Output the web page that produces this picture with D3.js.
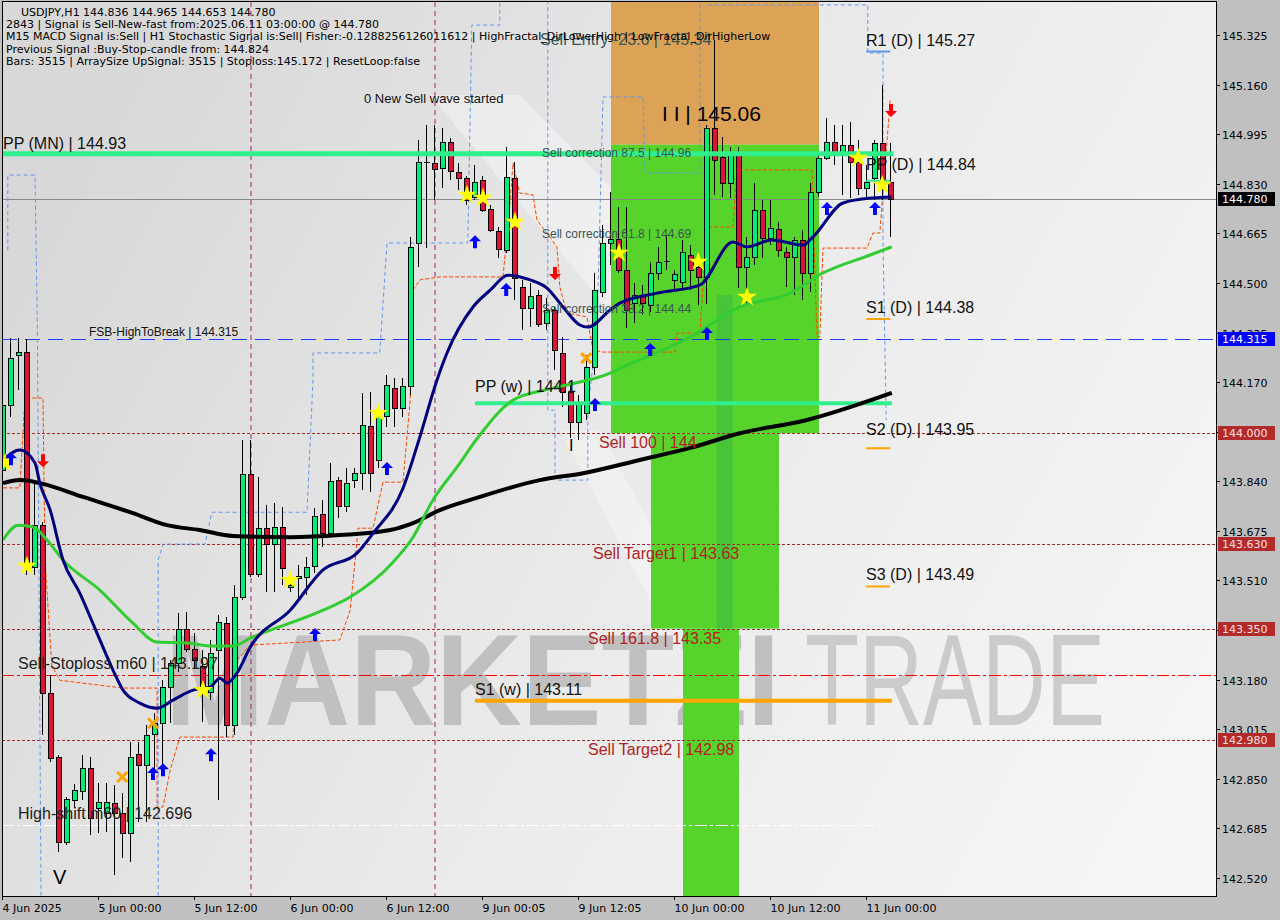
<!DOCTYPE html>
<html><head><meta charset="utf-8">
<script src="https://cdn.jsdelivr.net/npm/d3@7"></script>
<style>html,body{margin:0;padding:0;background:#c0c0c0;overflow:hidden}</style>
</head><body><div id="chart"></div>
<script>
// ---------------- DATA ----------------
const timeTickIdx = [0,12,24,36,48,60,72,84,96,108];
const timeLabels = ["4 Jun 2025","5 Jun 00:00","5 Jun 12:00","6 Jun 00:00","6 Jun 12:00","9 Jun 00:05","9 Jun 12:05","10 Jun 00:00","10 Jun 12:00","11 Jun 00:00"];
const priceTicks = [145.325,145.160,144.995,144.830,144.665,144.500,144.335,144.170,144.005,143.840,143.675,143.510,143.345,143.180,143.015,142.850,142.685,142.520];

const open = [143.877,144.094,144.260,144.270,143.555,143.694,143.135,142.922,142.640,142.779,142.809,142.886,142.753,142.736,142.769,142.736,142.670,142.932,142.896,142.999,143.035,143.155,143.235,143.348,143.282,143.225,143.139,143.278,143.368,143.029,143.455,143.864,143.531,143.684,143.631,143.688,143.488,143.518,143.521,143.558,143.731,143.668,143.844,143.758,143.844,143.867,144.024,143.911,144.057,144.150,144.084,144.157,144.633,144.902,144.899,144.882,144.969,144.869,144.849,144.786,144.842,144.746,144.673,144.610,144.849,144.486,144.417,144.460,144.366,144.410,144.267,144.137,144.037,144.067,144.220,144.470,144.633,144.646,144.543,144.433,144.460,144.427,144.533,144.570,144.510,144.503,144.593,144.553,144.520,145.016,144.919,144.832,144.936,144.553,144.586,144.743,144.649,144.679,144.603,144.586,144.643,144.533,144.803,144.916,144.969,144.936,144.959,144.902,144.816,144.849,144.966,144.836];
const high = [144.127,144.316,144.316,144.313,143.834,143.704,143.195,142.929,142.789,142.833,142.929,142.922,142.836,142.836,142.829,142.803,142.972,142.972,143.029,143.069,143.179,143.245,143.402,143.405,143.335,143.278,143.312,143.395,143.388,143.495,143.977,143.977,143.854,143.761,143.768,143.754,143.521,143.561,143.588,143.751,143.778,143.901,143.854,143.884,143.884,144.134,144.137,144.094,144.194,144.184,144.184,144.653,144.976,145.026,145.026,145.016,144.982,144.899,144.856,144.892,144.856,144.759,144.686,144.952,144.902,144.510,144.500,144.476,144.450,144.420,144.320,144.160,144.127,144.260,144.533,144.693,144.803,144.753,144.753,144.500,144.493,144.570,144.620,144.659,144.543,144.643,144.626,144.600,145.026,145.308,144.986,144.952,144.952,144.653,144.832,144.776,144.776,144.703,144.620,144.653,144.676,144.832,144.926,145.049,145.026,145.026,145.036,144.976,144.892,144.976,145.159,144.965];
const low = [143.844,144.054,144.144,143.528,143.528,142.996,142.906,142.606,142.630,142.753,142.779,142.663,142.670,142.673,142.530,142.587,142.573,142.706,142.706,142.869,142.896,143.035,143.205,143.272,143.218,143.039,143.112,142.779,142.989,142.996,143.445,143.521,143.521,143.471,143.471,143.495,143.471,143.451,143.461,143.535,143.621,143.654,143.718,143.738,143.818,143.811,143.804,143.884,144.020,144.020,144.054,144.127,144.553,144.616,144.776,144.816,144.842,144.809,144.759,144.776,144.736,144.669,144.583,144.600,144.443,144.343,144.353,144.353,144.343,144.210,144.087,143.984,143.977,144.044,144.194,144.453,144.560,144.533,144.350,144.366,144.393,144.403,144.510,144.543,144.476,144.476,144.476,144.427,144.430,144.793,144.786,144.783,144.483,144.433,144.560,144.583,144.626,144.586,144.486,144.460,144.443,144.470,144.786,144.909,144.892,144.793,144.783,144.793,144.783,144.776,144.776,144.653];
const close = [144.094,144.250,144.270,143.561,143.694,143.135,142.919,142.640,142.783,142.813,142.886,142.719,142.773,142.773,142.736,142.670,142.922,142.896,142.996,143.035,143.155,143.235,143.348,143.282,143.245,143.139,143.268,143.372,143.029,143.455,143.864,143.531,143.684,143.631,143.688,143.551,143.495,143.525,143.555,143.724,143.668,143.841,143.758,143.834,143.867,144.027,143.867,144.067,144.160,144.084,144.157,144.620,144.902,144.899,144.879,144.969,144.872,144.849,144.776,144.836,144.743,144.676,144.613,144.852,144.516,144.417,144.456,144.363,144.410,144.277,144.137,144.037,144.100,144.220,144.476,144.633,144.646,144.543,144.410,144.460,144.433,144.533,144.570,144.573,144.530,144.603,144.543,144.520,145.016,144.909,144.832,144.936,144.553,144.586,144.743,144.649,144.683,144.610,144.586,144.643,144.533,144.803,144.916,144.969,144.936,144.959,144.902,144.816,144.836,144.966,144.842,144.780];

// moving averages: [bar index, price]
const maFast = [[0,143.911],[2.1,143.944],[4,143.901],[4.6,143.834],[5.9,143.744],[7.5,143.578],[9.6,143.468],[11.75,143.335],[13.75,143.212],[15,143.145],[17.1,143.102],[19.25,143.085],[21.25,143.112],[23.75,143.145],[25.9,143.155],[27.1,143.185],[28,143.169],[29.25,143.202],[30.9,143.288],[35.9,143.411],[40,143.545],[44.25,143.601],[46.25,143.667],[50,143.817],[52.1,143.987],[54.25,144.177],[55.5,144.267],[58.75,144.420],[60.9,144.476],[63.1,144.526],[65.9,144.510],[68,144.483],[70,144.420],[72.1,144.360],[73.1,144.353],[75.9,144.410],[77.1,144.433],[81.75,144.466],[87.1,144.493],[91.25,144.636],[93,144.620],[96.1,144.643],[100,144.626],[101.25,144.653],[105,144.766],[108.75,144.783],[111.1,144.786]];
const maMid = [[0,143.645],[1.9,143.694],[3.75,143.688],[5.5,143.645],[7.5,143.578],[12.1,143.478],[16.25,143.368],[19.25,143.305],[23,143.302],[26.25,143.292],[28.75,143.292],[30.9,143.318],[40,143.411],[43.4,143.455],[48.75,143.571],[51.25,143.654],[53.75,143.778],[56.75,143.887],[59.6,143.994],[63.75,144.110],[68.75,144.150],[75.9,144.200],[77.5,144.220],[85.9,144.320],[92.1,144.420],[98.4,144.466],[102.5,144.533],[108.4,144.593],[111.1,144.620]];
const maSlow = [[0,143.834],[2.1,143.844],[4.6,143.834],[10,143.788],[16.25,143.734],[20.5,143.694],[24.6,143.678],[28.75,143.658],[35.9,143.654],[42.1,143.661],[48.4,143.678],[51.25,143.701],[54.6,143.744],[59.6,143.788],[67.1,143.844],[72.5,143.867],[79.6,143.911],[85.9,143.951],[92.1,144.000],[100.5,144.044],[111.1,144.134]];
const trailStop = [[0,143.818],[2.1,143.818],[2.75,144.117],[5,144.117],[5.25,143.578],[6.1,143.228],[7.1,143.178],[15,143.152],[19.25,143.152],[19.25,142.756],[20,142.756],[20.9,142.879],[22.1,142.989],[28.75,142.989],[29.25,143.245],[30.9,143.295],[42.1,143.312],[43.4,143.411],[44.4,143.684],[46.25,143.684],[47.5,143.837],[50,143.837],[50.9,144.110],[51.25,144.476],[52.1,144.510],[54.6,144.520],[62.5,144.520],[63.4,144.776],[63.75,144.899],[64.6,144.799],[66.25,144.793],[66.75,144.709],[69.25,144.620],[69.6,144.486],[70.5,144.400],[73,144.387],[73.75,144.277],[75,144.270],[84,144.270],[84.25,144.333],[87.1,144.333],[88,144.686],[91.25,144.686],[91.75,144.876],[101.1,144.876],[101.75,144.320],[102.1,144.320],[102.5,144.616],[108,144.616],[108.75,144.666],[109.6,144.666],[110.9,145.109]];
const envLeft = [[0.6,144.609],[0.6,144.859],[4,144.859],[4.3,144.343],[4.75,142.46]];
const envA = [[19.4,142.46],[19.4,143.578],[20,143.631],[25.25,143.631],[26.1,143.737],[38,143.737],[38.75,144.177],[38.75,144.267],[47.1,144.267],[48,144.633],[58.1,144.633],[58.6,145.358],[62.1,145.358],[62.1,145.44]];
const envB = [[68.1,145.44],[68.1,144.077],[69,144.077],[69,143.844],[73.1,143.844],[73.1,144.077],[74.25,144.343],[75,145.119],[80,145.119],[80.25,144.866],[87.1,144.866],[87.1,145.44]];
const envC = [[88.1,145.425],[108.1,145.425],[108.1,145.265],[110,145.265],[110,144.643],[110.4,144.044]];

const stars = [[0.25,143.901],[3,143.558],[25,143.145],[35.9,143.511],[46.9,144.067],[58,144.793],[60,144.783],[64,144.703],[77,144.600],[86.9,144.570],[93,144.453],[106.9,144.916],[109.9,144.826]];
const upArrows = [[1,143.937],[18.75,142.889],[20,142.902],[26,142.952],[39,143.352],[48,143.904],[59,144.659],[62.9,144.500],[74,144.117],[80.9,144.300],[88,144.353],[103,144.769],[109,144.769]];
const downArrows = [[5,143.887],[69,144.510],[111,145.052]];
const crosses = [[14.9,142.856],[18.75,143.035],[72.9,144.250]];

// zones [startIdx, endIdx, topPrice, bottomPrice]
const zoneOrange = [76,102,145.46,144.96];
const zoneGreen = [[76,102,144.96,144.00],[81,97,144.00,143.35],[85,92,143.35,142.45]];

const sellLevelNames = ["Sell 100 | 144","Sell Target1 | 143.63","Sell 161.8 | 143.35","Sell Target2 | 142.98"];
const sellLevelValues = [144.000,143.630,143.350,142.980];
const correctionNames = ["Sell correction 87.5 | 144.96","Sell correction 61.8 | 144.69","Sell correction 38.2 | 144.44"];
const correctionValues = [144.96,144.69,144.44];
const dailyPivotNames = ["R1 (D) | 145.27","PP (D) | 144.84","S1 (D) | 144.38","S2 (D) | 143.95","S3 (D) | 143.49"];
const dailyPivotValues = [145.27,144.84,144.38,143.95,143.49];
const ppMonthly = 144.93, ppWeekly = 144.10, s1Weekly = 143.11;
const fsbHigh = 144.315, stopLoss = 143.197, highShift = 142.696, lastPrice = 144.780, sellEntry = 145.34, peak = 145.06;

const headerLines = [
 "USDJPY,H1  144.836 144.965 144.653 144.780",
 "2843 | Signal is Sell-New-fast from:2025.06.11 03:00:00 @ 144.780",
 "M15 MACD Signal is:Sell | H1 Stochastic Signal is:Sell| Fisher:-0.1288256126011612 | HighFractal_DirLowerHigh | LowFractal_DirHigherLow",
 "Previous Signal :Buy-Stop-candle from: 144.824",
 "Bars: 3515 | ArraySize UpSignal: 3515 | Stoploss:145.172 | ResetLoop:false"
];

// ---------------- DRAW ----------------
const W = 1280, H = 920;
const PL = 2, PT = 2, PR = 1216, PB = 896;
const x = d3.scaleLinear().domain([0,111]).range([3,891]);
const y = d3.scaleLinear().domain([142.520,145.325]).range([878,35]);
const AR = "'Liberation Sans',Arial,sans-serif";
const TH = "'DejaVu Sans',Tahoma,sans-serif";

const svg = d3.select("#chart").append("svg").attr("width",W).attr("height",H);
svg.append("rect").attr("width",W).attr("height",H).attr("fill","#c0c0c0");
const defs = svg.append("defs");
const gr = defs.append("linearGradient").attr("id","bg").attr("x1","0").attr("y1","0.3").attr("x2","1").attr("y2","0.7");
gr.append("stop").attr("offset","0").attr("stop-color","#d8d8d8");
gr.append("stop").attr("offset","0.55").attr("stop-color","#ebebeb");
gr.append("stop").attr("offset","1").attr("stop-color","#f5f5f5");
defs.append("clipPath").attr("id","clip").append("rect").attr("x",PL).attr("y",PT).attr("width",PR-PL).attr("height",PB-PT);

svg.append("rect").attr("x",PL).attr("y",PT).attr("width",PR-PL).attr("height",PB-PT).attr("fill","url(#bg)");
const g = svg.append("g").attr("clip-path","url(#clip)");

// faint logo shapes
g.append("path").attr("d","M430,95 L520,95 L760,340 L700,420 Z").attr("fill","#ffffff").attr("opacity",0.35);
g.append("path").attr("d","M560,430 L600,430 L690,600 L650,600 Z").attr("fill","#ffffff").attr("opacity",0.3);

// watermark
g.append("text").attr("x",165).attr("y",725).attr("font-family",AR).attr("font-weight","bold")
 .attr("font-size",130).attr("textLength",615).attr("lengthAdjust","spacingAndGlyphs").attr("fill","#c0c0c0").text("MARKETZI");
g.append("text").attr("x",805).attr("y",725).attr("font-family",AR)
 .attr("font-size",130).attr("textLength",300).attr("lengthAdjust","spacingAndGlyphs").attr("fill","#cbcbcb").text("TRADE");

// zones
g.append("rect").attr("x",x(zoneOrange[0])).attr("y",y(zoneOrange[2]))
 .attr("width",x(zoneOrange[1])-x(zoneOrange[0])).attr("height",y(zoneOrange[3])-y(zoneOrange[2])).attr("fill","#dca256");
zoneGreen.forEach(z=>{
 g.append("rect").attr("x",x(z[0])).attr("y",y(z[2])).attr("width",x(z[1])-x(z[0])).attr("height",y(z[3])-y(z[2])).attr("fill","#56d42b");
});
g.append("rect").attr("x",x(89.2)).attr("y",y(144.46)).attr("width",x(91.2)-x(89.2)).attr("height",y(143.35)-y(144.46)).attr("fill","#45bf3c").attr("opacity",0.8);

// separators
[31, 54].forEach(i=>{
 g.append("line").attr("x1",x(i)).attr("x2",x(i)).attr("y1",PT).attr("y2",PB)
  .attr("stroke","#a0206e").attr("stroke-dasharray","5,4").attr("stroke-width",1);
});

// level lines
const lg = g.append("g").attr("shape-rendering","crispEdges");
lg.append("line").attr("x1",PL).attr("x2",PR).attr("y1",Math.round(y(lastPrice))+0.5).attr("y2",Math.round(y(lastPrice))+0.5).attr("stroke","#888").attr("stroke-width",1);
sellLevelValues.forEach(v=>{
 lg.append("line").attr("x1",PL).attr("x2",PR).attr("y1",Math.round(y(v))+0.5).attr("y2",Math.round(y(v))+0.5)
  .attr("stroke","#a52a2a").attr("stroke-dasharray","3,2").attr("stroke-width",1);
});
lg.append("line").attr("x1",PL).attr("x2",PR).attr("y1",Math.round(y(fsbHigh))+0.5).attr("y2",Math.round(y(fsbHigh))+0.5)
 .attr("stroke","#1e3cff").attr("stroke-dasharray","15,8").attr("stroke-width",1);
lg.append("line").attr("x1",PL).attr("x2",PR).attr("y1",Math.round(y(stopLoss))+0.5).attr("y2",Math.round(y(stopLoss))+0.5)
 .attr("stroke","#ff0000").attr("stroke-dasharray","12,3,3,3").attr("stroke-width",1);
lg.append("line").attr("x1",PL).attr("x2",x(110)).attr("y1",Math.round(y(highShift))+0.5).attr("y2",Math.round(y(highShift))+0.5)
 .attr("stroke","#ffffff").attr("stroke-dasharray","12,3,3,3").attr("stroke-width",1);

// envelope dashed (blue) and trailing stop (orange)
const ln = d3.line().x(d=>x(d[0])).y(d=>y(d[1]));
[envLeft,envA,envB,envC].forEach(p=>{
 g.append("path").attr("d",ln(p)).attr("fill","none").attr("stroke","#6495ed").attr("stroke-width",1).attr("stroke-dasharray","4,3");
});
g.append("path").attr("d",ln(trailStop)).attr("fill","none").attr("stroke","#ff4500").attr("stroke-width",1).attr("stroke-dasharray","4,2");

// candles
const idx = d3.range(open.length);
const cg = g.append("g").attr("shape-rendering","crispEdges");
idx.forEach(i=>{
 const cx = Math.round(x(i));
 cg.append("line").attr("x1",cx-0.5).attr("x2",cx-0.5).attr("y1",y(high[i])).attr("y2",y(low[i])).attr("stroke","#000").attr("stroke-width",1);
 const top = y(Math.max(open[i],close[i])), bot = y(Math.min(open[i],close[i]));
 const up = close[i] >= open[i];
 if (bot-top < 1.5) {
  cg.append("line").attr("x1",cx-3).attr("x2",cx+3).attr("y1",Math.round(top)+0.5).attr("y2",Math.round(top)+0.5).attr("stroke","#000");
 } else {
  cg.append("rect").attr("x",cx-2.5).attr("y",Math.round(top)+0.5).attr("width",5).attr("height",Math.max(1,Math.round(bot-top)))
   .attr("fill", up ? "#00ee76" : "#dc143c").attr("stroke","#000").attr("stroke-width",1);
 }
});

// pivot lines
g.append("line").attr("x1",PL).attr("x2",x(111.3)).attr("y1",y(ppMonthly)).attr("y2",y(ppMonthly)).attr("stroke","#2ff08a").attr("stroke-width",5);
g.append("line").attr("x1",x(59)).attr("x2",x(111.1)).attr("y1",y(ppWeekly)).attr("y2",y(ppWeekly)).attr("stroke","#2ff08a").attr("stroke-width",4);
g.append("line").attr("x1",x(59)).attr("x2",x(111.1)).attr("y1",y(s1Weekly)).attr("y2",y(s1Weekly)).attr("stroke","#ffa500").attr("stroke-width",4);
const pivColors = ["#6495ed","#2ff08a","#ffa500","#ffa500","#ffa500"];
dailyPivotValues.forEach((v,k)=>{
 g.append("line").attr("x1",x(107.9)).attr("x2",x(110.9)).attr("y1",y(v)).attr("y2",y(v)).attr("stroke",pivColors[k]).attr("stroke-width",2);
});

// moving averages
const cl = d3.line().x(d=>x(d[0])).y(d=>y(d[1])).curve(d3.curveMonotoneX);
g.append("path").attr("d",cl(maSlow)).attr("fill","none").attr("stroke","#000").attr("stroke-width",4);
g.append("path").attr("d",cl(maMid)).attr("fill","none").attr("stroke","#32cd32").attr("stroke-width",3);
g.append("path").attr("d",cl(maFast)).attr("fill","none").attr("stroke","#000080").attr("stroke-width",3);

// markers
const starSym = d3.symbol().type(d3.symbolStar).size(120);
stars.forEach(s=>{
 g.append("path").attr("d",starSym()).attr("transform",`translate(${x(s[0])},${y(s[1])})`).attr("fill","#ffff00");
});
const upPath = "M0,0 L6,6 L2,6 L2,13 L-2,13 L-2,6 L-6,6 Z";
upArrows.forEach(a=>{
 g.append("path").attr("d",upPath).attr("transform",`translate(${x(a[0])},${y(a[1])})`).attr("fill","#0000ff");
});
downArrows.forEach(a=>{
 g.append("path").attr("d",upPath).attr("transform",`translate(${x(a[0])},${y(a[1])}) scale(1,-1)`).attr("fill","#ff0000");
});
crosses.forEach(c=>{
 const cx = x(c[0]), cy = y(c[1]);
 g.append("path").attr("d",`M${cx-5},${cy-5}L${cx+5},${cy+5}M${cx+5},${cy-5}L${cx-5},${cy+5}`).attr("stroke","#ffa500").attr("stroke-width",3);
});

// texts on chart
function txt(xx,yy,t,size,color,fam){
 return g.append("text").attr("x",xx).attr("y",yy).attr("font-family",fam||AR).attr("font-size",size).attr("fill",color||"#000").text(t);
}
txt(3, y(ppMonthly)-5, "PP (MN) | 144.93", 16, "#111");
correctionNames.forEach((t,k)=> txt(542, y(correctionValues[k])+12, t, 12, "#3a5555"));
txt(540, y(sellEntry)+15, "Sell Entry -23.6 | 145.34", 16, "#3a5555");
sellLevelNames.forEach((t,k)=>{
 const xs0 = [599,593,588,588][k];
 txt(xs0, y(sellLevelValues[k])+15, t, 16, "#b22222");
});
const pivOff = [-6,-11,-6,-13,-6];
dailyPivotNames.forEach((t,k)=> txt(866, y(dailyPivotValues[k])+pivOff[k], t, 16, "#111"));
txt(475, y(ppWeekly)-11, "PP (w) | 144.1", 16, "#111");
txt(475, y(s1Weekly)-6, "S1 (w) | 143.11", 16, "#111");
txt(89, y(fsbHigh)-3, "FSB-HighToBreak | 144.315", 12, "#111");
txt(18, y(stopLoss)-6, "Sell-Stoploss m60 | 143.197", 16, "#222");
txt(18, y(highShift)-6, "High-shift m60 | 142.696", 16, "#222");
txt(364, 103, "0 New Sell wave started", 13, "#111");
txt(662, y(peak)+6, "I I | 145.06", 21, "#000");
txt(53, 884, "V", 20, "#000");
txt(569, 451, "I", 16, "#000");

// header
headerLines.forEach((t,k)=>{
 svg.append("text").attr("x", k===0?21:6).attr("y",16+k*12.2).attr("font-family",TH).attr("font-size",11).attr("fill","#000").text(t);
});

// frame
svg.append("rect").attr("x",PL+0.5).attr("y",PT-0.5).attr("width",PR-PL).attr("height",PB-PT+1).attr("fill","none").attr("stroke","#000").attr("stroke-width",1);

// price axis
priceTicks.forEach(v=>{
 const yy = Math.round(y(v))+0.5;
 svg.append("line").attr("x1",PR).attr("x2",PR+4).attr("y1",yy).attr("y2",yy).attr("stroke","#000");
 svg.append("text").attr("x",1222).attr("y",yy+4).attr("font-family",TH).attr("font-size",11).attr("fill","#000").text(v.toFixed(3));
});
function box(v,bg,fg){
 const yy = Math.round(y(v));
 svg.append("rect").attr("x",1218).attr("y",yy-7).attr("width",57).attr("height",14).attr("fill",bg);
 svg.append("text").attr("x",1222).attr("y",yy+4).attr("font-family",TH).attr("font-size",11).attr("fill",fg).text(v.toFixed(3));
}
box(lastPrice,"#000000","#ffffff");
box(fsbHigh,"#0000ff","#ffffff");
sellLevelValues.forEach(v=>box(v,"#b22a2a","#ffe0e0"));

// time axis
timeTickIdx.forEach((i,k)=>{
 const xx = Math.round(x(i))-0.5;
 svg.append("line").attr("x1",xx).attr("x2",xx).attr("y1",PB).attr("y2",PB+4).attr("stroke","#000");
 svg.append("text").attr("x",xx).attr("y",912).attr("font-family",TH).attr("font-size",11).attr("fill","#000").text(timeLabels[k]);
});
</script>
</body></html>
